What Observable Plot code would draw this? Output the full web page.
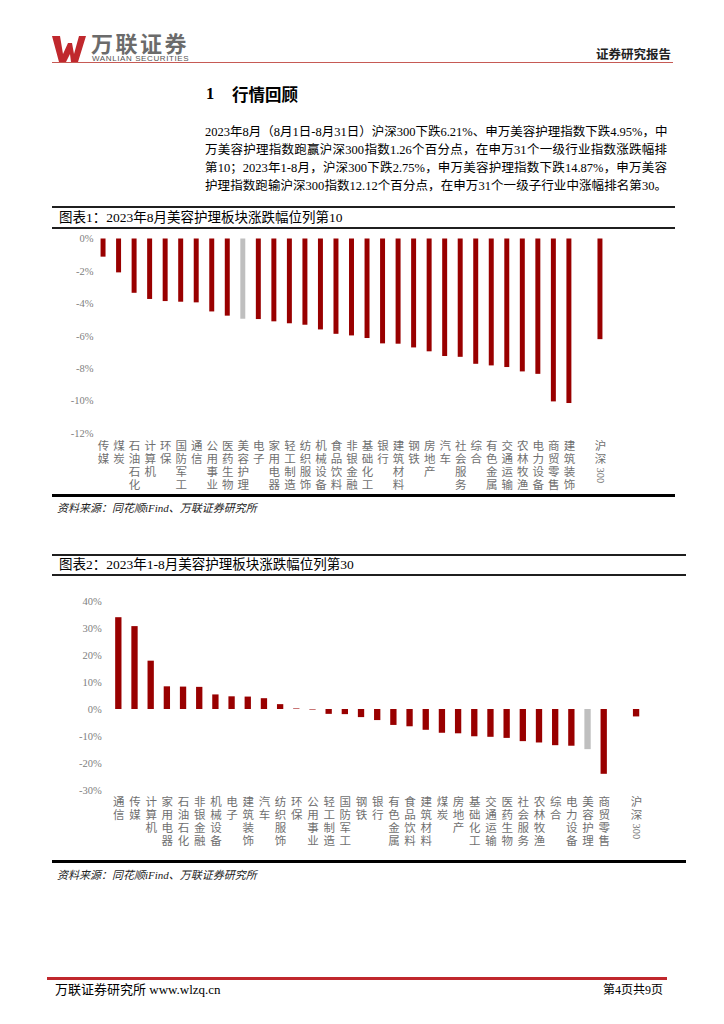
<!DOCTYPE html>
<html><head><meta charset="utf-8">
<script src="https://cdn.jsdelivr.net/npm/d3@7"></script>
<script src="https://cdn.jsdelivr.net/npm/@observablehq/plot@0.6"></script>
<style>
body{margin:0;background:#fff;}
#page{position:relative;width:724px;height:1024px;overflow:hidden;background:#fff;font-family:"Liberation Serif","Noto Sans CJK SC",serif;color:#000;}
.a{position:absolute;white-space:nowrap;}
.hl{position:absolute;background:#1f1f1f;}
.para{position:absolute;left:205px;width:462px;font-size:12.5px;line-height:18.4px;text-align:justify;text-align-last:justify;white-space:nowrap;}
.ttl{position:absolute;left:59px;font-size:13.5px;line-height:16px;}
.src{position:absolute;left:57px;font-size:11px;font-style:italic;color:#222;}
</style></head><body><div id="page">
<svg class="a" style="left:50px;top:34px" width="40" height="30" viewBox="0 0 40 30">
  <path d="M2 2 L10 2 L13 20 L18 9 L22 9 L24 20 L29 2 L36 2 L28 28 L21 28 L20 20 L16 28 L9 28 Z" fill="#c0282d"/>
</svg>
<div class="a" style="left:91px;top:32px;font-family:'Noto Sans CJK SC';font-weight:700;font-size:22px;letter-spacing:2.5px;color:#6b6b6b;line-height:21px">万联证券</div>
<div class="a" style="left:92px;top:54px;font-family:'Liberation Sans';font-size:8px;letter-spacing:0.6px;color:#555;line-height:9px">WANLIAN SECURITIES</div>
<div class="a" style="left:596px;top:47px;font-family:'Noto Sans CJK SC';font-weight:700;font-size:12.5px;color:#222;line-height:14px">证券研究报告</div>
<div class="a" style="left:52px;top:61.5px;width:621px;height:1.5px;background:#c65a55"></div>

<div class="a" style="left:206px;top:84px;font-size:16.5px;font-weight:700;line-height:20px">1</div>
<div class="a" style="left:232px;top:84px;font-family:'Noto Sans CJK SC';font-size:16.5px;font-weight:700;line-height:20px">行情回顾</div>

<div class="para" style="top:122.5px">2023年8月（8月1日-8月31日）沪深300下跌6.21%、申万美容护理指数下跌4.95%，中</div>
<div class="para" style="top:140.8px">万美容护理指数跑赢沪深300指数1.26个百分点，在申万31个一级行业指数涨跌幅排</div>
<div class="para" style="top:159.1px">第10；2023年1-8月，沪深300下跌2.75%，申万美容护理指数下跌14.87%，申万美容</div>
<div class="para" style="top:177.4px">护理指数跑输沪深300指数12.12个百分点，在申万31个一级子行业中涨幅排名第30。</div>

<div class="hl" style="left:52px;top:206px;width:623px;height:2px"></div>
<div class="ttl" style="top:210px">图表1：2023年8月美容护理板块涨跌幅位列第10</div>
<div class="hl" style="left:52px;top:227px;width:623px;height:2px"></div>
<div id="c1" class="a" style="left:52px;top:230px"></div>
<div class="hl" style="left:52px;top:493.5px;width:623px;height:3px;background:#000"></div>
<div class="src" style="top:499px">资料来源：同花顺iFind、万联证券研究所</div>

<div class="hl" style="left:52px;top:554px;width:634px;height:2px"></div>
<div class="ttl" style="top:557px">图表2：2023年1-8月美容护理板块涨跌幅位列第30</div>
<div class="hl" style="left:52px;top:574px;width:634px;height:2px"></div>
<div id="c2" class="a" style="left:52px;top:577px"></div>
<div class="hl" style="left:52px;top:860px;width:634px;height:3px;background:#000"></div>
<div class="src" style="top:865.5px">资料来源：同花顺iFind、万联证券研究所</div>

<div class="a" style="left:47px;top:977px;width:620px;height:2.5px;background:#c0282d"></div>
<div class="a" style="left:55px;top:982px;font-size:13px;line-height:16px">万联证券研究所 www.wlzq.cn</div>
<div class="a" style="left:603px;top:982px;font-size:12px;line-height:16px">第4页共9页</div>
</div>
<script>
// Chart 1: 2023年8月 申万一级行业涨跌幅 (%)
const cats1 = ["传媒","煤炭","石油石化","计算机","环保","国防军工","通信","公用事业","医药生物","美容护理","电子","家用电器","轻工制造","纺织服饰","机械设备","食品饮料","非银金融","基础化工","银行","建筑材料","钢铁","房地产","汽车","社会服务","综合","有色金属","交通运输","农林牧渔","电力设备","商贸零售","建筑装饰"];
const vals1 = [-1.12,-2.09,-3.35,-3.73,-3.86,-3.90,-3.94,-4.50,-4.76,-4.95,-4.97,-5.11,-5.23,-5.32,-5.61,-5.88,-5.98,-6.14,-6.47,-6.49,-6.72,-6.96,-7.25,-7.30,-7.73,-7.83,-7.93,-8.20,-8.35,-10.05,-10.15];
const hs1 = -6.21;
const ticks1 = [0,-2,-4,-6,-8,-10,-12];

// Chart 2: 2023年1-8月 申万一级行业涨跌幅 (%)
const cats2 = ["通信","传媒","计算机","家用电器","石油石化","非银金融","机械设备","电子","建筑装饰","汽车","纺织服饰","环保","公用事业","轻工制造","国防军工","钢铁","银行","有色金属","食品饮料","建筑材料","煤炭","房地产","基础化工","交通运输","医药生物","社会服务","农林牧渔","综合","电力设备","美容护理","商贸零售"];
const vals2 = [34.0,30.7,17.9,8.4,8.3,8.2,5.4,4.7,4.6,4.0,1.8,0.2,-0.2,-1.8,-1.9,-3.0,-4.1,-5.9,-6.4,-7.7,-8.8,-9.0,-10.1,-10.3,-10.7,-11.9,-12.4,-13.4,-13.6,-14.87,-24.0];
const hs2 = -2.75;
const ticks2 = [40,30,20,10,0,-10,-20,-30];

const highlight = "美容护理";
const indexName = "沪深300";
const RED = "#990000", GRAY = "#bfbfbf";

function pct(d){ return (d < 0 ? "-" : "") + Math.abs(d) + "%"; }
// stack CJK characters vertically; the index keeps its digits for a rotated run
const cjkPart = s => s.replace(/[0-9]+$/, "");
const digitPart = s => (s.match(/[0-9]+$/) || [""])[0];
const stack = s => Array.from(cjkPart(s)).join("\n");

function chart(el, cats, vals, hs, ticks, o) {
  const rows = cats.map((c, i) => ({name: c, value: vals[i]}));
  rows.push({name: indexName, value: hs});
  const domain = [...cats, " ", indexName];
  const labels = [...cats, indexName];
  const lh = 13; // px per stacked character
  const svg = Plot.plot({
    width: o.width, height: o.height,
    marginLeft: o.ml, marginRight: o.mr, marginTop: o.mt, marginBottom: o.mb,
    style: {background: "transparent", overflow: "visible"},
    x: {type: "band", domain, padding: o.pad, round: false, axis: null},
    y: {domain: [ticks[ticks.length - 1], ticks[0]], axis: null},
    color: {type: "identity"},
    marks: [
      Plot.barY(rows, {x: "name", y: "value", fill: d => d.name === highlight ? GRAY : RED}),
      Plot.axisY({ticks, tickSize: 0, tickPadding: o.tp, tickFormat: pct, label: null,
        fontFamily: "Liberation Serif", fontSize: 10.5, fill: "#808080", letterSpacing: o.ls}),
      Plot.text(labels, {x: d => d, frameAnchor: "bottom", text: stack, lineAnchor: "top",
        lineHeight: lh / 11.5, dy: o.ly,
        fontFamily: "Noto Sans CJK SC", fontSize: 11.5, fill: "#707070"}),
      Plot.text([indexName], {x: d => d, frameAnchor: "bottom", text: digitPart, rotate: 90,
        textAnchor: "start", lineAnchor: "middle", dy: o.ly + lh * cjkPart(indexName).length + 1,
        fontFamily: "Liberation Serif", fontSize: 10.5, fill: "#707070"})
    ]
  });
  document.getElementById(el).appendChild(svg);
}

chart("c1", cats1, vals1, hs1, ticks1, {width: 623, height: 262, ml: 38, mr: 62, mt: 8.5, mb: 59, pad: 0.68, tp: -3, ls: 0, ly: 7});
chart("c2", cats2, vals2, hs2, ticks2, {width: 634, height: 283, ml: 53.3, mr: 36.9, mt: 24, mb: 70, pad: 0.61, tp: 4, ls: 1, ly: 6});
</script>
</body></html>
